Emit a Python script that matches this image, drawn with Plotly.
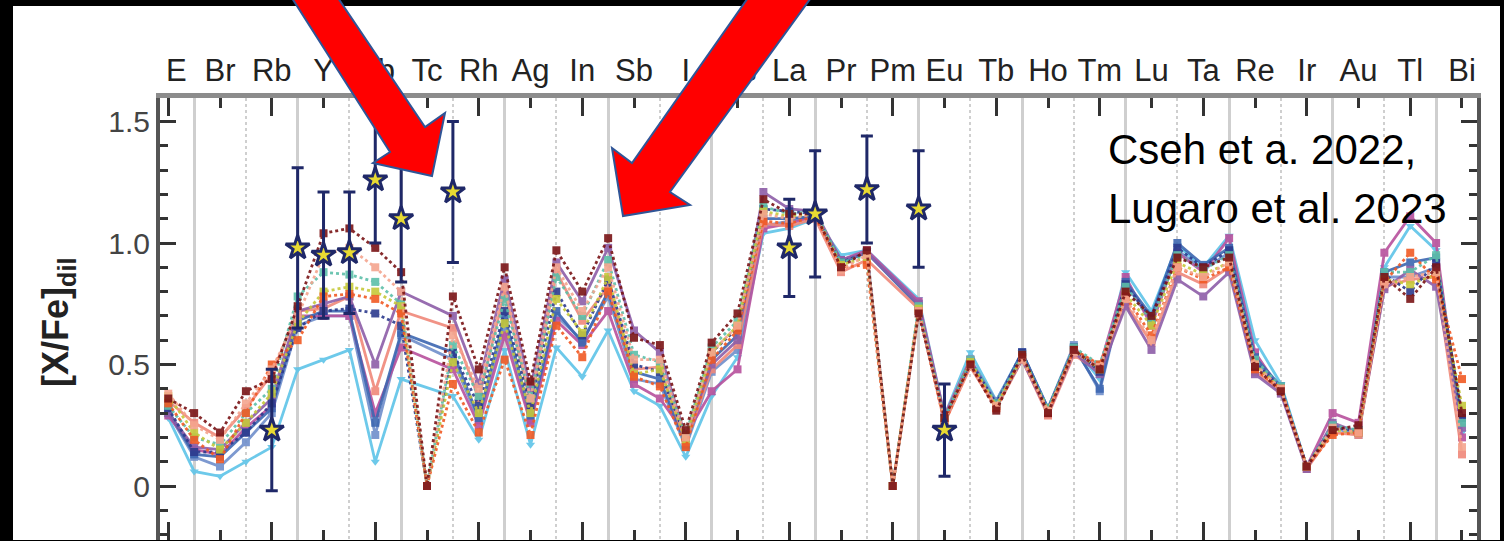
import plotly.graph_objects as go

# ---------------- data ----------------
Z = list(range(33, 84))  # atomic numbers As..Bi

maroon_dot = [0.36,0.30,0.22,0.39,0.44,0.74,1.04,1.06,0.98,0.88,0.0,0.78,0.48,0.90,0.43,0.97,0.80,1.02,0.61,0.58,0.23,0.59,0.71,1.18,1.12,1.12,0.90,0.97,0.0,0.71,0.28,0.50,0.31,0.54,0.30,0.56,0.48,0.80,0.70,0.94,0.90,0.94,0.49,0.39,0.08,0.23,0.25,0.86,0.77,0.90,0.30]
salmon_dot = [0.38,0.25,0.19,0.34,0.48,0.70,0.95,0.98,0.90,0.80,0.0,0.62,0.40,0.82,0.36,0.90,0.72,0.90,0.52,0.52,0.20,0.55,0.66,1.12,1.10,1.12,0.89,0.95,0.0,0.72,0.27,0.49,0.33,0.52,0.31,0.55,0.49,0.77,0.60,0.90,0.86,0.92,0.50,0.40,0.08,0.24,0.22,0.83,0.86,0.88,0.16]
orange_dot = [0.34,0.19,0.11,0.30,0.50,0.60,0.78,0.79,0.77,0.71,0.0,0.42,0.22,0.52,0.21,0.66,0.53,0.80,0.45,0.41,0.16,0.52,0.64,1.09,1.08,1.11,0.90,0.91,0.0,0.72,0.26,0.50,0.32,0.53,0.30,0.56,0.50,0.78,0.62,0.90,0.85,0.90,0.48,0.40,0.08,0.21,0.22,0.84,0.96,0.85,0.44]
yellow_dot = [0.37,0.22,0.15,0.26,0.38,0.67,0.80,0.82,0.80,0.74,0.0,0.51,0.30,0.67,0.30,0.77,0.63,0.86,0.46,0.48,0.19,0.55,0.66,1.13,1.11,1.12,0.91,0.94,0.0,0.73,0.27,0.51,0.33,0.53,0.31,0.56,0.48,0.79,0.66,0.92,0.87,0.92,0.50,0.40,0.08,0.23,0.22,0.85,0.83,0.87,0.33]
teal_dot = [0.33,0.20,0.17,0.30,0.40,0.78,0.88,0.87,0.84,0.75,0.0,0.58,0.37,0.77,0.36,0.86,0.70,0.93,0.54,0.51,0.21,0.57,0.68,1.15,1.12,1.13,0.92,0.95,0.0,0.74,0.28,0.52,0.34,0.54,0.32,0.57,0.50,0.82,0.68,0.95,0.89,0.95,0.52,0.41,0.08,0.25,0.23,0.88,0.88,0.95,0.26]
navy_dot = [0.32,0.14,0.14,0.22,0.34,0.65,0.72,0.73,0.71,0.66,0.0,0.55,0.33,0.72,0.33,0.80,0.62,0.85,0.50,0.47,0.20,0.55,0.65,1.14,1.13,1.12,0.92,0.96,0.0,0.72,0.28,0.51,0.34,0.55,0.31,0.57,0.47,0.83,0.69,0.98,0.90,0.97,0.51,0.40,0.08,0.24,0.23,0.87,0.80,0.92,0.28]
purple_sol = [0.30,0.16,0.15,0.26,0.36,0.72,0.75,0.78,0.50,0.80,None,0.70,0.42,0.85,0.40,0.92,0.76,0.98,0.64,0.55,0.20,0.50,0.60,1.21,1.14,1.13,0.93,0.96,None,0.75,0.28,0.50,0.33,0.52,0.30,0.55,0.46,0.74,0.56,0.85,0.78,0.88,0.46,0.38,0.07,0.26,0.22,0.81,0.89,0.82,0.24]
salmon_sol = [0.35,0.26,0.20,0.32,0.46,0.72,0.73,0.78,0.39,0.72,None,0.65,0.36,0.80,0.34,0.88,0.68,0.82,0.48,0.49,0.18,0.48,0.58,1.08,1.07,1.10,0.88,0.93,None,0.73,0.26,0.49,0.32,0.52,0.29,0.54,0.47,0.75,0.59,0.88,0.83,0.90,0.47,0.39,0.07,0.22,0.21,0.82,0.85,0.86,0.13]
blue_sol = [0.31,0.13,0.12,0.22,0.32,0.68,0.72,0.72,0.26,0.63,None,0.55,0.28,0.70,0.29,0.72,0.59,0.80,0.47,0.44,0.17,0.52,0.62,1.10,1.10,1.11,0.92,0.96,None,0.74,0.27,0.51,0.34,0.55,0.32,0.57,0.40,0.84,0.70,1.00,0.91,0.98,0.53,0.41,0.08,0.25,0.22,0.88,0.92,0.94,0.28]
pink_sol = [0.29,0.15,0.13,0.24,0.33,0.70,0.70,0.70,0.30,0.57,None,0.48,0.25,0.62,0.26,0.68,0.58,0.72,0.42,0.36,0.21,0.39,0.48,1.06,1.08,1.11,0.93,0.97,None,0.76,0.29,0.52,0.33,0.53,0.31,0.56,0.49,0.86,0.66,0.96,0.88,1.02,0.55,0.39,0.08,0.30,0.26,0.96,1.11,1.00,0.20]
steel_sol = [0.30,0.12,0.08,0.18,0.30,0.66,0.70,0.70,0.21,0.62,None,0.52,0.27,0.66,0.27,0.70,0.60,0.78,0.44,0.42,0.16,0.47,0.56,1.07,1.09,1.11,0.93,0.96,None,0.75,0.28,0.52,0.35,0.55,0.32,0.58,0.39,0.83,0.68,0.97,0.89,0.96,0.52,0.40,0.08,0.24,0.21,0.86,0.86,0.90,0.26]
cyan_sol = [0.28,0.06,0.04,0.10,0.16,0.48,0.52,0.56,0.10,0.44,None,0.37,0.19,0.56,0.17,0.57,0.45,0.64,0.39,0.33,0.12,0.37,0.53,1.04,1.06,1.10,0.95,0.97,None,0.77,0.29,0.55,0.35,0.55,0.31,0.57,0.44,0.88,0.72,0.99,0.90,1.03,0.60,0.42,0.08,0.25,0.21,0.90,1.07,0.97,0.22]

obs_z = [37, 38, 39, 40, 41, 42, 44, 57, 58, 60, 62, 63]
obs_val = [0.23, 0.98, 0.95, 0.96, 1.26, 1.10, 1.21, 0.98, 1.12, 1.22, 1.14, 0.23]
obs_err = [0.25, 0.33, 0.26, 0.25, 0.26, 0.26, 0.29, 0.20, 0.26, 0.22, 0.24, 0.19]

label_z = list(range(35, 84, 2))
label_txt = ["Br", "Rb", "Y", "Nb", "Tc", "Rh", "Ag", "In", "Sb", "I", "Cs", "La",
             "Pr", "Pm", "Eu", "Tb", "Ho", "Tm", "Lu", "Ta", "Re", "Ir", "Au", "Tl", "Bi"]
first_label_z = 33
first_label_txt = "E"

# ---------------- geometry helpers ----------------
W, H = 1504, 541
ML, MR, MT, MB = 160, 27, 98, 1
PW, PH = W - ML - MR, H - MT - MB


def pxx(x):
    return (x - ML) / PW


def pxy(y):
    return (H - MB - y) / PH


XR = [32.68, 83.58]
YR = [-0.2222, 1.5967]

series = [
    (cyan_sol, "#5ec4e8", "solid", "triangle-down"),
    (steel_sol, "#6f8fcb", "solid", "square"),
    (pink_sol, "#b8519d", "solid", "square"),
    (blue_sol, "#3d67b1", "solid", "square"),
    (salmon_sol, "#f0887a", "solid", "square"),
    (purple_sol, "#8d5ea8", "solid", "square"),
    (navy_dot, "#2d3b8e", "dot", "square"),
    (teal_dot, "#5dbfa9", "dot", "square"),
    (yellow_dot, "#c6c93a", "dot", "square"),
    (orange_dot, "#f15a24", "dot", "square"),
    (salmon_dot, "#f5a58e", "dot", "square"),
    (maroon_dot, "#7a1416", "dot", "square"),
]

fig = go.Figure()

# invisible carriers for the overlay axes (grid / top labels / long ticks)
for ax in ("x2", "x3", "x4"):
    fig.add_trace(go.Scatter(x=[None], y=[None], xaxis=ax, yaxis="y",
                             showlegend=False, hoverinfo="skip"))

for vals, col, dash, sym in series:
    fig.add_trace(go.Scatter(
        x=Z, y=vals, mode="lines+markers", connectgaps=True,
        line=dict(color=col, width=2.8, dash=dash),
        marker=dict(symbol=sym, size=8, color=col),
        opacity=0.9, showlegend=False))

fig.add_trace(go.Scatter(
    x=obs_z, y=obs_val, mode="markers",
    marker=dict(symbol="star", size=18, color="#e8da32",
                line=dict(color="#1f2868", width=3)),
    error_y=dict(type="data", array=obs_err, color="#1f2868", thickness=3, width=6),
    showlegend=False))

lab_font = dict(family="Liberation Sans, Arial", size=31, color="#222222")

annotations = [
    dict(x=first_label_z, xref="x", y=pxy(70), yref="paper", text=first_label_txt,
         showarrow=False, xanchor="center", yanchor="middle", xshift=8, font=lab_font),
    dict(x=pxx(58), xref="paper", y=pxy(322), yref="paper",
         text="<b>[X/Fe]<sub>dil</sub></b>", textangle=-90,
         showarrow=False, xanchor="center", yanchor="middle",
         font=dict(family="Liberation Sans, Arial", size=36, color="#222222")),
    dict(x=pxx(1106), xref="paper", y=pxy(149), yref="paper",
         text="Cseh et a. 2022,", showarrow=False, xanchor="left", yanchor="middle",
         font=dict(family="Liberation Sans, Arial", size=42, color="#000000")),
    dict(x=pxx(1106), xref="paper", y=pxy(208), yref="paper",
         text="Lugaro et al. 2023", showarrow=False, xanchor="left", yanchor="middle",
         font=dict(family="Liberation Sans, Arial", size=42, color="#000000")),
]


def path(points):
    return "M " + " L ".join(f"{pxx(x):.5f},{pxy(y):.5f}" for x, y in points) + " Z"


arrow1 = [(290, -5), (390, 152), (373, 163), (432, 176), (445, 113), (425, 127), (336, -5)]
arrow2 = [(750, -5), (632, 163), (612, 148), (623, 216), (690, 205), (670, 192), (813, -5)]

shapes = [
    dict(type="rect", xref="paper", yref="paper", x0=pxx(13), x1=pxx(1500),
         y0=pxy(540), y1=pxy(6), fillcolor="white", line=dict(width=0), layer="below"),
    dict(type="path", xref="paper", yref="paper", path=path(arrow1),
         fillcolor="#ff0000", line=dict(color="#2f5597", width=2), layer="above"),
    dict(type="path", xref="paper", yref="paper", path=path(arrow2),
         fillcolor="#ff0000", line=dict(color="#2f5597", width=2), layer="above"),
]

tick_c = "#333333"
fig.update_layout(
    width=W, height=H,
    margin=dict(l=ML, r=MR, t=MT, b=MB, pad=0),
    paper_bgcolor="#000000", plot_bgcolor="white",
    showlegend=False,
    # main data axis: short ticks at odd Z (bottom + mirrored top)
    xaxis=dict(range=XR, tick0=33, dtick=2, ticks="inside", ticklen=10, tickwidth=3,
               tickcolor=tick_c, showticklabels=False, showgrid=False, zeroline=False,
               showline=False, mirror="ticks"),
    # grid axis: solid / dotted vertical lines at even Z, plus the grey top frame
    xaxis2=dict(range=XR, overlaying="x", side="top", anchor="y", tick0=34, dtick=4,
                ticks="", showticklabels=False, showgrid=True, gridcolor="#cfcfcf",
                gridwidth=2.5, zeroline=False, showline=True, linecolor="#8c8c8c",
                linewidth=5,
                minor=dict(tick0=34, dtick=2, showgrid=True, gridcolor="#cfcfcf",
                           griddash="dot", gridwidth=2, ticks="")),
    # element labels on top
    xaxis3=dict(range=XR, overlaying="x", side="top", anchor="y", tickmode="array",
                tickvals=label_z, ticktext=label_txt, ticks="", showgrid=False,
                zeroline=False, showline=False, tickfont=lab_font, ticklabelstandoff=10),
    # long ticks every 4th element (bottom + mirrored top)
    xaxis4=dict(range=XR, overlaying="x", side="bottom", anchor="y", tick0=33, dtick=4,
                ticks="inside", ticklen=18, tickwidth=3, tickcolor=tick_c,
                showticklabels=False, showgrid=False, zeroline=False, showline=False,
                mirror="ticks"),
    yaxis=dict(range=YR, tick0=0, dtick=0.5, ticks="inside", ticklen=16, tickwidth=3,
               tickcolor=tick_c, showline=True, linecolor="#555555", linewidth=4,
               mirror="ticks", showgrid=False, zeroline=False,
               labelalias={"1": "1.0"}, ticklabelstandoff=0,
               tickfont=dict(family="Liberation Sans, Arial", size=30, color="#444444"),
               minor=dict(dtick=0.1, tick0=0, ticks="inside", ticklen=8, tickwidth=3,
                          tickcolor=tick_c, showgrid=False)),
    annotations=annotations,
    shapes=shapes,
)

fig.write_html("out.html")
